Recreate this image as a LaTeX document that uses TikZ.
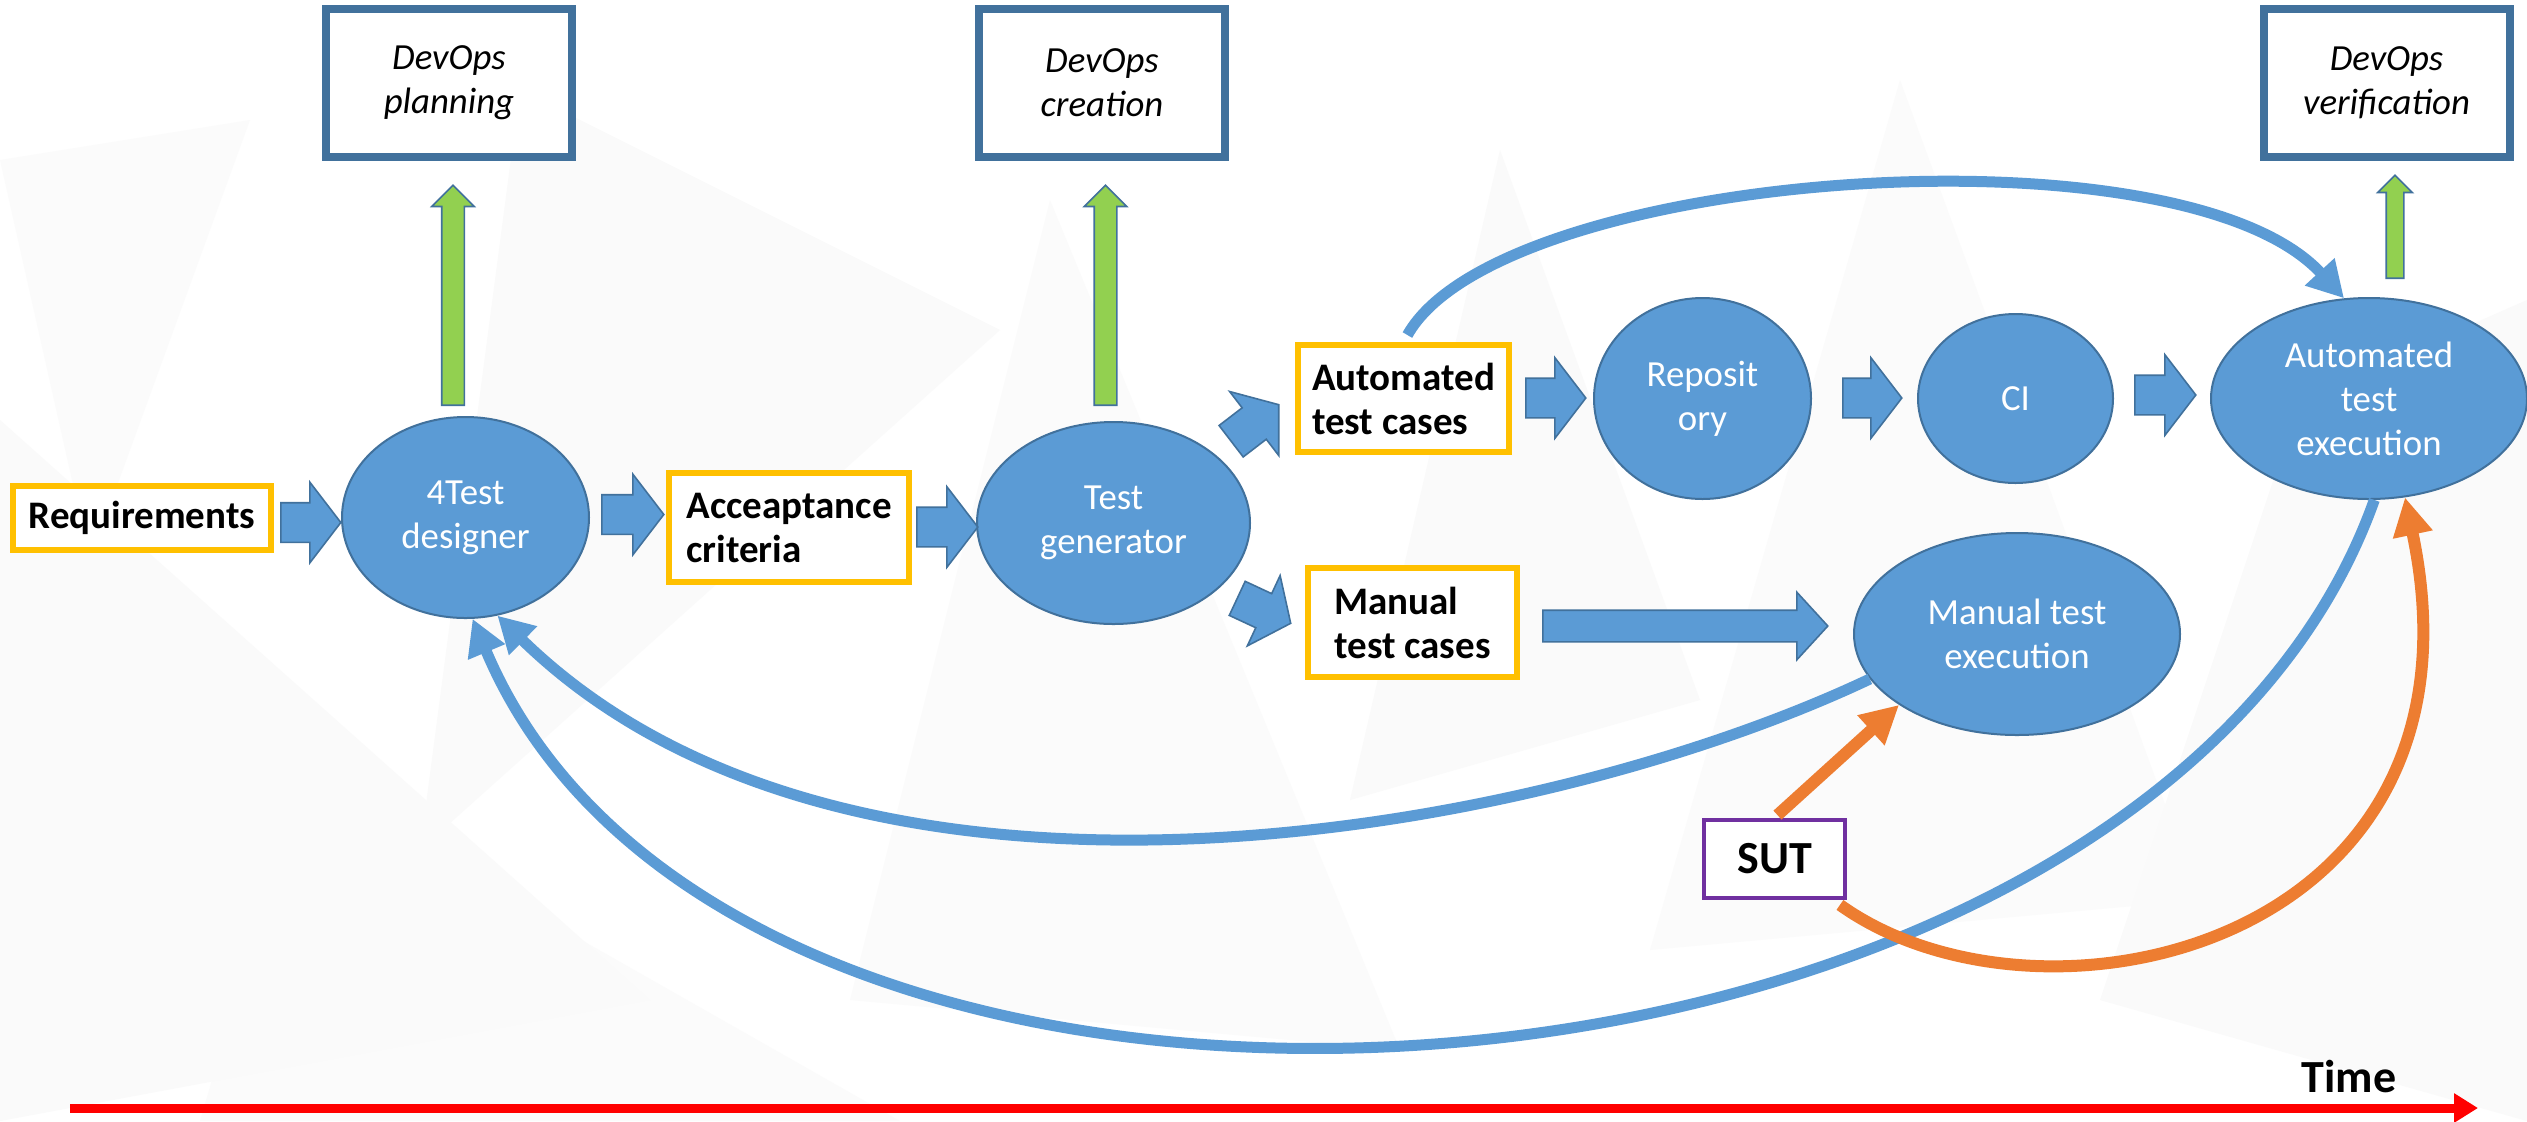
\documentclass[tikz,border=0pt]{standalone}
\usepackage{fontspec}
\setmainfont{Carlito}
\usetikzlibrary{shapes.geometric, shapes.arrows, arrows.meta}

\definecolor{nodeblue}{HTML}{5B9BD5}
\definecolor{edgeblue}{HTML}{41719C}
\definecolor{tcyellow}{HTML}{FFC000}
\definecolor{devgreen}{HTML}{92D050}
\definecolor{sutorange}{HTML}{ED7D31}
\definecolor{sutpurple}{HTML}{7030A0}

\tikzset{
	devops/.style={draw=edgeblue, line width=4pt, fill=white, minimum width=123pt, minimum height=74pt,
		align=center, inner sep=0pt, font=\fontsize{18.4}{22}\selectfont\itshape},
	artefact/.style={draw=tcyellow, line width=3pt, fill=white, align=left, inner sep=0pt,
		font=\fontsize{19.5}{22}\selectfont\bfseries},
	process/.style={ellipse, draw=edgeblue, line width=1pt, fill=nodeblue, text=white, align=center,
		inner sep=0pt, font=\fontsize{18.4}{22}\selectfont},
	blockarrow/.style={single arrow, draw=edgeblue, line width=0.8pt, fill=nodeblue, inner xsep=0pt,
		inner ysep=9.5pt, single arrow head extend=10.25pt, single arrow tip angle=105, minimum width=0pt, anchor=tail},
	uparrow/.style={single arrow, draw=edgeblue, line width=0.8pt, fill=devgreen, inner xsep=0pt,
		single arrow tip angle=90, minimum width=0pt, rotate=90, anchor=tail},
	feedback/.style={draw=nodeblue, line width=5.5pt, -{Triangle[width=19pt,length=18pt]}},
	sutflow/.style={draw=sutorange, line width=6pt, -{Triangle[width=19pt,length=19pt]}},
}

\begin{document}
\begin{tikzpicture}[x=0.5pt, y=-0.5pt]
	\useasboundingbox (0,0) rectangle (2527,1121);
	\fill[white] (0,0) rectangle (2527,1121);
	
	% faint background
	\fill[black!1.5] (0,160) -- (250,120) -- (90,560) -- cycle;
	\fill[black!2] (520,90) -- (1000,330) -- (420,850) -- cycle;
	\fill[black!1.5] (1050,200) -- (1400,1050) -- (850,1000) -- cycle;
	\fill[black!2] (1500,150) -- (1700,700) -- (1350,800) -- cycle;
	\fill[black!1.5] (1900,80) -- (2200,900) -- (1650,950) -- cycle;
	\fill[black!2] (2300,400) -- (2527,300) -- (2527,1121) -- (2100,1000) -- cycle;
	\fill[black!1.5] (300,780) -- (900,1121) -- (200,1121) -- cycle;
	\fill[black!2] (0,420) -- (650,1000) -- (0,1121) -- cycle;
	
	\node[devops] (plan) at (449,83) {DevOps\\planning};
	\node[devops] (create) at (1102,83) {DevOps\\creation};
	\node[devops] (verif) at (2386.5,83) {DevOps\\verification};
	
	\node[artefact, minimum width=129pt, minimum height=32pt] (req) at (142,518) {Requirements};
	\node[process, minimum width=123.5pt, minimum height=100.5pt] (des) at (465.5,517.5) {4Test\\designer};
	\node[artefact, minimum width=120pt, minimum height=54.5pt] (acc) at (789,527.5) {Acceaptance\\criteria};
	\node[process, minimum width=136.5pt, minimum height=101pt] (gen) at (1113.5,523) {Test\\generator};
	\node[artefact, minimum width=105.5pt, minimum height=53.5pt] (auto) at (1403.5,398.5) {Automated\\test cases};
	\node[artefact, minimum width=104.5pt, minimum height=54.5pt] (man) at (1412.5,622.5) {Manual\\test cases};
	\node[process, minimum width=108.5pt, minimum height=100.5pt] (repo) at (1702.5,398.5) {Reposit\\ory};
	\node[process, minimum width=97.5pt, minimum height=84.5pt] (ci) at (2015.5,398.5) {CI};
	\node[process, minimum width=158pt, minimum height=100.5pt] (aexe) at (2369,398.5) {Automated\\test\\execution};
	\node[process, minimum width=163pt, minimum height=101pt] (mexe) at (2017,634) {Manual test\\execution};
	\node[draw=sutpurple, line width=2.25pt, fill=white, minimum width=70.5pt, minimum height=39pt,
		font=\fontsize{23}{26}\selectfont\bfseries] (sut) at (1774.5,859) {SUT};
	
	% block arrows
	\node[blockarrow, minimum height=30pt] (a1) at (280,522.5) {};
	\node[blockarrow, minimum height=31pt] (a2) at (601,514.5) {};
	\node[blockarrow, minimum height=30.5pt] (a3) at (916,527) {};
	\node[blockarrow, minimum height=30pt, rotate=37.5] (a4) at (1230.5,441.7) {};
	\node[blockarrow, minimum height=29.5pt, inner ysep=9pt, single arrow head extend=10pt, rotate=-25] (a5) at (1236.5,598) {};
	\node[blockarrow, minimum height=30pt] (a6) at (1525,398) {};
	\node[blockarrow, minimum height=29.5pt] (a7) at (1842,398) {};
	\node[blockarrow, minimum height=30.5pt] (a8) at (2134,395) {};
	\node[blockarrow, inner ysep=7.5pt, single arrow head extend=9pt, single arrow tip angle=95,
		minimum height=142.5pt] (a9) at (1542,626) {};
	
	\node[uparrow, inner ysep=5.25pt, single arrow head extend=5pt, minimum height=110pt] (g1) at (453,406) {};
	\node[uparrow, inner ysep=5.25pt, single arrow head extend=5pt, minimum height=110pt] (g2) at (1105.5,406) {};
	\node[uparrow, inner ysep=4pt, single arrow head extend=4.25pt, minimum height=51.5pt] (g3) at (2395,279) {};
	
	% feedback loops
	\draw[feedback, shorten <=4pt] (auto.north) .. controls (1500,170) and (2180,120) .. (aexe.104);
	\draw[feedback] (mexe.197) .. controls (1540,835) and (852,962) .. (des.288);
	\draw[feedback] (aexe.273) .. controls (2143,1149) and (739,1251) .. (des.274);
	\draw[sutflow, shorten <=2pt] (sut.north) -- (mexe.211);
	\draw[sutflow, shorten <=4pt] (sut.-35) .. controls (2040,1048) and (2500,948) .. (aexe.290);
	
	% time axis
	\coordinate (t0) at (70,1108);
	\coordinate (t1) at (2478,1108);
	\draw[red, line width=4.5pt, -{Triangle[width=14pt,length=12pt]}] (t0) -- (t1);
	\node[font=\fontsize{23}{26}\selectfont\bfseries] (time) at (2349,1077) {Time};
\end{tikzpicture}
\end{document}
